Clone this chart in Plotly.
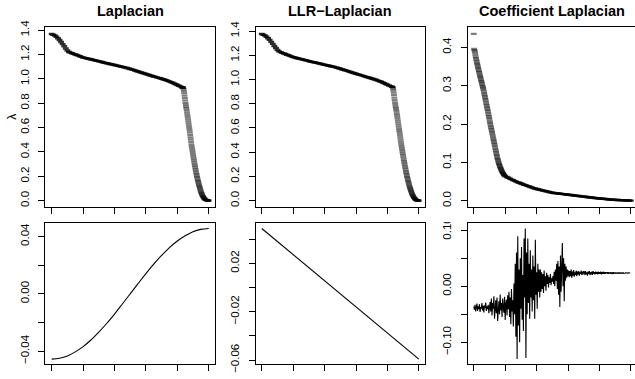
import plotly.graph_objects as go

# ---------------- data ----------------
titles = ["Laplacian", "LLR\u2212Laplacian", "Coefficient Laplacian"]

lap_idx_flat = list(range(0, 420, 5))
lap_val_flat = [1.368, 1.362, 1.355, 1.345, 1.333, 1.318, 1.302, 1.285, 1.267, 1.249, 1.232,
                1.220, 1.215, 1.210, 1.205, 1.200, 1.195, 1.190, 1.185, 1.180, 1.175,
                1.172, 1.169, 1.166, 1.163, 1.160, 1.156, 1.153, 1.150, 1.147, 1.144,
                1.141, 1.138, 1.134, 1.131, 1.128, 1.125, 1.122, 1.119, 1.116, 1.113,
                1.110, 1.107, 1.104, 1.101, 1.098, 1.095, 1.092, 1.089, 1.085, 1.081,
                1.077, 1.073, 1.068, 1.064, 1.060, 1.056, 1.052, 1.048, 1.043, 1.039,
                1.035, 1.031, 1.027, 1.023, 1.019, 1.016, 1.012, 1.008, 1.004, 1.000,
                0.996, 0.992, 0.988, 0.983, 0.978, 0.973, 0.967, 0.961, 0.955, 0.949,
                0.943, 0.937, 0.931]
lap_idx_drop = list(range(416, 501))
lap_val_drop = [0.930, 0.929, 0.928, 0.926, 0.915, 0.900, 0.882, 0.862, 0.842, 0.822,
                0.803, 0.786, 0.770, 0.755, 0.740, 0.722, 0.704, 0.686, 0.668, 0.650,
                0.632, 0.614, 0.596, 0.578, 0.560, 0.540, 0.520, 0.500, 0.480, 0.460,
                0.444, 0.428, 0.412, 0.396, 0.380, 0.364, 0.348, 0.332, 0.316, 0.300,
                0.286, 0.272, 0.258, 0.244, 0.230, 0.218, 0.206, 0.194, 0.182, 0.170,
                0.160, 0.150, 0.140, 0.130, 0.120, 0.111, 0.102, 0.093, 0.084, 0.075,
                0.068, 0.062, 0.055, 0.048, 0.042, 0.037, 0.033, 0.029, 0.024, 0.020,
                0.017, 0.014, 0.012, 0.009, 0.007, 0.006, 0.005, 0.004, 0.003, 0.002,
                0.0015, 0.001, 0.0005, 0.0002, 0.0]

llr_idx_flat = list(range(0, 420, 5))
llr_val_flat = [1.376, 1.370, 1.363, 1.353, 1.341, 1.327, 1.311, 1.294, 1.277, 1.260, 1.244,
                1.232, 1.226, 1.220, 1.215, 1.210, 1.205, 1.200, 1.195, 1.190, 1.185,
                1.182, 1.178, 1.175, 1.172, 1.168, 1.165, 1.162, 1.159, 1.156, 1.152,
                1.149, 1.146, 1.143, 1.140, 1.137, 1.134, 1.131, 1.128, 1.125, 1.122,
                1.119, 1.116, 1.113, 1.110, 1.107, 1.104, 1.100, 1.097, 1.093, 1.089,
                1.085, 1.081, 1.077, 1.073, 1.069, 1.064, 1.060, 1.056, 1.052, 1.048,
                1.044, 1.040, 1.036, 1.032, 1.028, 1.024, 1.020, 1.016, 1.012, 1.008,
                1.004, 1.000, 0.996, 0.991, 0.986, 0.981, 0.975, 0.969, 0.963, 0.957,
                0.951, 0.945, 0.940]
llr_idx_drop = list(range(416, 501))
llr_val_drop = [0.938, 0.935, 0.925, 0.910, 0.892, 0.872, 0.851, 0.831, 0.812, 0.795,
                0.779, 0.764, 0.750, 0.734, 0.717, 0.699, 0.681, 0.663, 0.645, 0.627,
                0.610, 0.593, 0.576, 0.559, 0.541, 0.522, 0.503, 0.485, 0.467, 0.450,
                0.434, 0.418, 0.402, 0.386, 0.371, 0.356, 0.341, 0.326, 0.312, 0.298,
                0.284, 0.270, 0.257, 0.244, 0.231, 0.219, 0.207, 0.195, 0.184, 0.173,
                0.162, 0.152, 0.142, 0.132, 0.123, 0.114, 0.105, 0.097, 0.089, 0.081,
                0.074, 0.067, 0.060, 0.054, 0.048, 0.042, 0.037, 0.032, 0.028, 0.024,
                0.020, 0.017, 0.014, 0.011, 0.009, 0.007, 0.005, 0.004, 0.003, 0.002,
                0.0015, 0.001, 0.0006, 0.0003, 0.0]

coef_idx_drop = list(range(0, 101))
coef_val_drop = [0.435,
                 0.396, 0.393, 0.390, 0.386, 0.381, 0.376, 0.372, 0.368, 0.364, 0.360,
                 0.357, 0.353, 0.350, 0.346, 0.343, 0.339, 0.336, 0.332, 0.329, 0.325,
                 0.322, 0.319, 0.315, 0.312, 0.309, 0.306, 0.302, 0.299, 0.296, 0.293,
                 0.289, 0.285, 0.281, 0.277, 0.273, 0.269, 0.265, 0.261, 0.257, 0.253,
                 0.249, 0.245, 0.241, 0.237, 0.233, 0.229, 0.224, 0.220, 0.216, 0.212,
                 0.207, 0.203, 0.199, 0.195, 0.191, 0.187, 0.183, 0.179, 0.175, 0.171,
                 0.167, 0.163, 0.159, 0.155, 0.151, 0.147, 0.143, 0.139, 0.135, 0.131,
                 0.127, 0.123, 0.119, 0.116, 0.112, 0.109, 0.106, 0.103, 0.100, 0.097,
                 0.095, 0.093, 0.090, 0.088, 0.086, 0.084, 0.082, 0.080, 0.078, 0.076,
                 0.075, 0.073, 0.072, 0.071, 0.069, 0.068, 0.067, 0.066, 0.065, 0.064]
coef_idx_flat = list(range(105, 501, 5))
coef_val_flat = [0.062, 0.060, 0.058, 0.056, 0.054, 0.052, 0.050, 0.048, 0.047, 0.045,
                 0.044, 0.042, 0.041, 0.039, 0.038, 0.036, 0.035, 0.033, 0.032, 0.031,
                 0.030, 0.029, 0.028, 0.027, 0.026, 0.025, 0.024, 0.023, 0.022, 0.021,
                 0.0205, 0.020, 0.0195, 0.019, 0.0185, 0.018, 0.0175, 0.017, 0.0165, 0.016,
                 0.0155, 0.015, 0.0145, 0.014, 0.0135, 0.013, 0.0125, 0.012, 0.0115, 0.011,
                 0.0105, 0.010, 0.0095, 0.009, 0.0085, 0.008, 0.0075, 0.007, 0.0066, 0.0062,
                 0.0058, 0.0054, 0.005, 0.0046, 0.0042, 0.0038, 0.0035, 0.0032, 0.0029, 0.0026,
                 0.0023, 0.0021, 0.0019, 0.0017, 0.0015, 0.0013, 0.0011, 0.0009, 0.0007, 0.0005]

vec_lap_idx = list(range(0, 501, 25))
vec_lap_val = [-0.0455, -0.0449, -0.0433, -0.0405, -0.0368, -0.0322, -0.0267, -0.0207,
               -0.0141, -0.0071, 0.0, 0.0071, 0.0141, 0.0207, 0.0267, 0.0322, 0.0368,
               0.0405, 0.0433, 0.0449, 0.0455]

vec_llr_idx = [0, 500]
vec_llr_val = [0.0488, -0.0592]

vec_coef_idx = list(range(0, 500, 2))
vec_coef_val = [
    # 0..50
    -0.036, -0.042, -0.033, -0.045, -0.038, -0.031, -0.044, -0.036, -0.041, -0.032,
    -0.046, -0.037, -0.040, -0.030, -0.043, -0.035, -0.047, -0.034, -0.039, -0.029,
    -0.044, -0.036, -0.041, -0.033, -0.048, -0.035,
    # 52..110
    -0.028, -0.045, -0.022, -0.052, -0.030, -0.040, -0.018, -0.058, -0.033, -0.025,
    -0.048, -0.020, -0.062, -0.035, -0.027, -0.050, -0.015, -0.043, -0.030, -0.055,
    -0.022, -0.038, -0.047, -0.019, -0.060, -0.032, -0.024, -0.052, -0.016, -0.041,
    # 112..130
    -0.010, -0.055, -0.020, -0.068, -0.005, -0.045, -0.025, -0.072, 0.005, -0.050,
    # 132..210
    0.040, -0.090, 0.060, -0.130, 0.089, -0.070, 0.030, -0.100, 0.050, -0.040,
    0.070, -0.060, 0.020, -0.080, 0.085, -0.020, 0.103, -0.128, 0.060, -0.050,
    0.085, -0.030, 0.040, -0.058, 0.064, -0.020, 0.030, -0.045, 0.055, -0.025,
    0.035, -0.058, 0.083, -0.015, 0.025, -0.040, 0.040, -0.010, 0.030, -0.020,
    # 212..250
    0.030, -0.010, 0.025, -0.005, 0.022, -0.012, 0.028, 0.000, 0.018, -0.008,
    0.024, 0.004, 0.020, -0.002, 0.016, 0.006, 0.022, 0.002, 0.014, 0.008,
    # 252..300
    0.018, 0.004, 0.026, 0.000, 0.030, 0.010, 0.040, -0.005, 0.045, -0.015,
    0.035, -0.037, 0.055, -0.010, 0.030, 0.077, 0.000, 0.050, -0.027, 0.040,
    0.010, 0.035, 0.015, 0.030, 0.018,
    # 302..350
    0.028, 0.016, 0.027, 0.018, 0.030, 0.015, 0.026, 0.019, 0.029, 0.017,
    0.025, 0.020, 0.028, 0.018, 0.026, 0.021, 0.027, 0.019, 0.025, 0.022,
    0.028, 0.020, 0.026, 0.021, 0.027,
    # 352..498
    0.026, 0.020, 0.027, 0.021, 0.025, 0.019, 0.026, 0.022, 0.027, 0.020,
    0.025, 0.021, 0.026, 0.020, 0.027, 0.022, 0.025, 0.021, 0.026, 0.022,
    0.025, 0.021, 0.026, 0.022, 0.025, 0.022, 0.026, 0.021, 0.025, 0.022,
    0.026, 0.022, 0.025, 0.022, 0.025, 0.023, 0.025, 0.022, 0.025, 0.023,
    0.024, 0.023, 0.025, 0.023, 0.024, 0.022, 0.025, 0.023, 0.024, 0.023,
    0.024, 0.023, 0.024, 0.023, 0.024, 0.023, 0.024, 0.023, 0.024, 0.023,
    0.024, 0.023, 0.024, 0.023, 0.024, 0.0235, 0.024, 0.0235, 0.024, 0.0235,
    0.024, 0.0235, 0.024, 0.0235,
]

x_ticks = [0, 100, 200, 300, 400, 500]
top_ticks = [[0.0, 0.2, 0.4, 0.6, 0.8, 1.0, 1.2, 1.4],
             [0.0, 0.2, 0.4, 0.6, 0.8, 1.0, 1.2, 1.4],
             [0.0, 0.1, 0.2, 0.3, 0.4]]
top_ticktext = [["0.0", "0.2", "0.4", "0.6", "0.8", "1.0", "1.2", "1.4"],
                ["0.0", "0.2", "0.4", "0.6", "0.8", "1.0", "1.2", "1.4"],
                ["0.0", "0.1", "0.2", "0.3", "0.4"]]
bot_ticks = [[-0.04, -0.02, 0.0, 0.02, 0.04],
             [-0.06, -0.04, -0.02, 0.0, 0.02, 0.04],
             [-0.10, -0.05, 0.0, 0.05, 0.10]]
bot_ticktext = [["\u22120.04", "", "0.00", "", "0.04"],
                ["\u22120.06", "", "\u22120.02", "", "0.02", ""],
                ["\u22120.10", "", "0.00", "", "0.10"]]

# ---------------- layout geometry ----------------
W, H = 635, 379
FONT = "Liberation Sans, Arial, Helvetica, sans-serif"
col_px = [(45.4, 215.0), (255.5, 425.1), (467.5, 635.0)]
top_px = (27.3, 207.3)
bot_px = (223.3, 364.3)
px_per_unit = (215.0 - 45.4) / 540.0


def xdom(c):
    return [col_px[c][0] / W, col_px[c][1] / W]


def ydom(r):
    a, b = r
    return [1 - b / H, 1 - a / H]


def rrange(vals):
    lo, hi = min(vals), max(vals)
    d = hi - lo
    return [lo - 0.04 * d, hi + 0.04 * d]


fig = go.Figure()

# dense parts of the spectrum render almost solid, sparse parts as grey dashes
dense_marker = dict(symbol="line-ew", size=4.2,
                    line=dict(color="rgba(0,0,0,0.8)", width=2.4))
sparse_marker = dict(symbol="line-ew", size=4.2,
                     line=dict(color="rgba(0,0,0,0.5)", width=2.2))

top_parts = [
    [(lap_idx_flat, lap_val_flat, dense_marker), (lap_idx_drop, lap_val_drop, sparse_marker)],
    [(llr_idx_flat, llr_val_flat, dense_marker), (llr_idx_drop, llr_val_drop, sparse_marker)],
    [(coef_idx_flat, coef_val_flat, dense_marker), (coef_idx_drop, coef_val_drop, sparse_marker)],
]
top_all = [lap_val_flat + lap_val_drop, llr_val_flat + llr_val_drop,
           coef_val_drop + coef_val_flat]
bot_series = [
    (vec_lap_idx, vec_lap_val, "spline"),
    (vec_llr_idx, vec_llr_val, "linear"),
    (vec_coef_idx, vec_coef_val, "linear"),
]

for c in range(3):
    n_top = c + 1
    n_bot = c + 4
    for xs, ys, mk in top_parts[c]:
        fig.add_trace(go.Scatter(x=xs, y=ys, mode="markers", marker=mk,
                                 xaxis="x%d" % n_top, yaxis="y%d" % n_top,
                                 showlegend=False, hoverinfo="skip"))
    bx, by, shp = bot_series[c]
    fig.add_trace(go.Scatter(x=bx, y=by, mode="lines",
                             line=dict(color="black", width=1.1, shape=shp),
                             xaxis="x%d" % n_bot, yaxis="y%d" % n_bot,
                             showlegend=False, hoverinfo="skip"))

layout = dict(width=W, height=H, margin=dict(l=0, r=0, t=0, b=0, autoexpand=False),
              paper_bgcolor="white", plot_bgcolor="white",
              font=dict(family=FONT, size=11, color="black"))

for c in range(3):
    if c < 2:
        xr = [-20, 520]
    else:
        xr = [-20, -20 + (col_px[2][1] - col_px[2][0]) / px_per_unit]
    for r, n in ((0, c + 1), (1, c + 4)):
        ax_common = dict(showline=True, linecolor="black", linewidth=1,
                         ticks="outside", ticklen=6, tickwidth=1, tickcolor="black",
                         showgrid=False, zeroline=False, automargin=False)
        xa = dict(ax_common, domain=xdom(c), range=xr, tickvals=x_ticks,
                  showticklabels=False, mirror=True,
                  anchor="y%d" % n)
        if r == 0:
            yvals = top_all[c]
            tv, tt = top_ticks[c], top_ticktext[c]
            ydomain = ydom(top_px)
        else:
            yvals = bot_series[c][1]
            tv, tt = bot_ticks[c], bot_ticktext[c]
            ydomain = ydom(bot_px)
        ya = dict(ax_common, domain=ydomain, range=rrange(yvals), tickvals=tv,
                  ticktext=tt, tickangle=-90, mirror=(c < 2),
                  ticklabelstandoff=5,
                  tickfont=dict(family=FONT, size=11.5, color="black"),
                  anchor="x%d" % n)
        layout["xaxis%d" % n if n > 1 else "xaxis"] = xa
        layout["yaxis%d" % n if n > 1 else "yaxis"] = ya

annotations = []
title_centers = [(45.4 + 215.0) / 2, (255.5 + 425.1) / 2, (467.5 + 636.9) / 2]
for c in range(3):
    annotations.append(dict(text="<b>%s</b>" % titles[c], xref="paper", yref="paper",
                            x=title_centers[c] / W, y=1 - 10.5 / H,
                            xanchor="center", yanchor="middle", showarrow=False,
                            font=dict(family=FONT, size=14.5, color="black")))
annotations.append(dict(text="\u03bb", xref="paper", yref="paper",
                        x=12.5 / W, y=1 - 117.3 / H, textangle=-90,
                        xanchor="center", yanchor="middle", showarrow=False,
                        font=dict(family=FONT, size=12, color="black")))
layout["annotations"] = annotations

# the reference clips the top of the "0.10" label of the lower-right panel
layout["shapes"] = [dict(type="rect", xref="paper", yref="paper", layer="above",
                         x0=436 / W, x1=460 / W, y0=1 - 222 / H, y1=1 - 211 / H,
                         fillcolor="white", line=dict(width=0))]

fig.update_layout(**layout)
fig.write_html("out.html", config={"displayModeBar": False, "staticPlot": True},
               post_script="document.body.style.margin='0';document.body.style.overflow='hidden';")
